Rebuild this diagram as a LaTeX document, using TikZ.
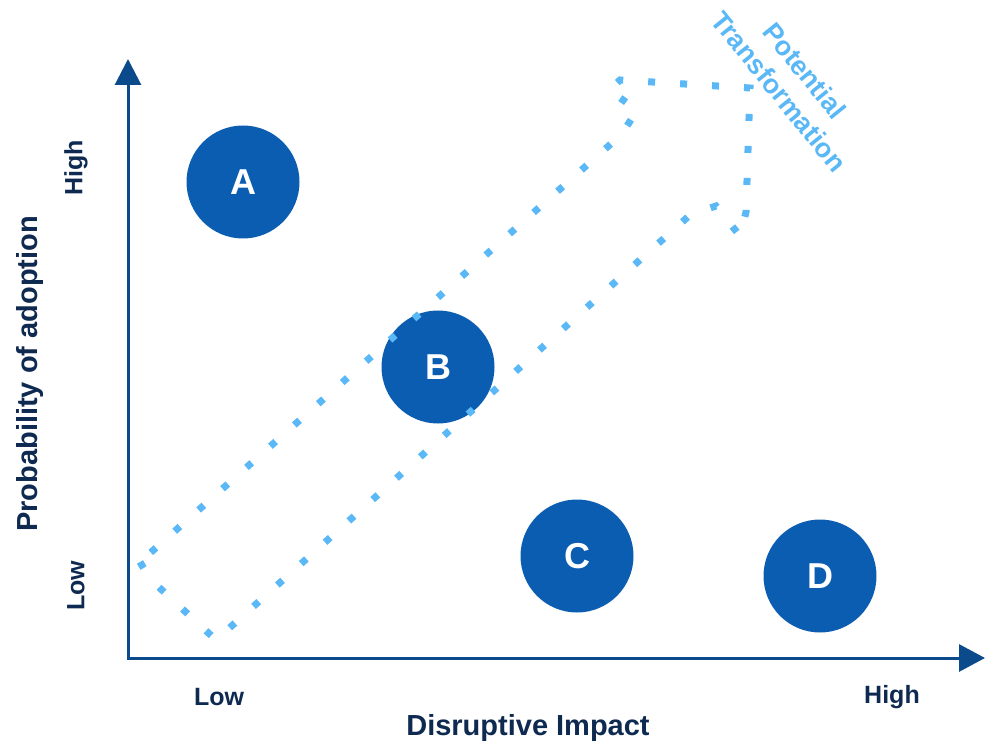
\documentclass[tikz,border=0pt]{standalone}
\usepackage{fontspec}
\setmainfont{Liberation Sans}
\usetikzlibrary{arrows.meta}
\definecolor{axisblue}{HTML}{0B4A8B}
\definecolor{labelnavy}{HTML}{0F2A50}
\definecolor{bubbleblue}{HTML}{0B5DB1}
\definecolor{pathblue}{HTML}{5BB8F6}

\begin{document}
\begin{tikzpicture}[x=1pt,y=-1pt,
    axis/.style={line width=3pt,draw=axisblue,
      {Triangle[length=26pt,width=26pt]}-{Triangle[length=26pt,width=27pt]}},
    bubble/.style={circle,fill=bubbleblue,minimum size=113pt,inner sep=0pt,
      text=white,font=\fontsize{36}{40}\selectfont\bfseries},
    level/.style={text=labelnavy,inner sep=0pt,font=\fontsize{25}{30}\selectfont\bfseries},
    axtitle/.style={text=labelnavy,inner sep=0pt,font=\fontsize{29}{34}\selectfont\bfseries},
    outline/.style={draw=pathblue,line width=7pt,dash pattern=on 7pt off 25pt}]
  \useasboundingbox (0,0) rectangle (988,743);
  % axes
  \coordinate (ytop) at (128,59);
  \coordinate (origin) at (128,658);
  \coordinate (xend) at (985,658);
  \draw[axis] (ytop) -- (origin) -- (xend);
  % bubbles
  \node[bubble] (a) at (243,182) {A};
  \node[bubble] (b) at (438,367) {B};
  \node[bubble] (c) at (577,556) {C};
  \node[bubble] (d) at (820,576) {D};
  % dotted arrow
  \draw[outline] (140,562) -- (150,579) -- (216,640) -- (690,215) -- (716,206)
    -- (740,236) -- (746,212) -- (750,88) -- (620,80) -- (609,90) -- (637,110)
    -- (622,134) -- cycle;
  \node[text=pathblue,rotate=-51,align=center,inner sep=0pt,
    font=\fontsize{27}{33}\selectfont\bfseries] (trans) at (792,81) {Potential\\Transformation};
  % labels
  \node[level] (xlow) at (219,697) {Low};
  \node[level] (xhigh) at (892,697) {High};
  \node[level,rotate=90] (yhigh) at (76,168) {High};
  \node[level,rotate=90] (ylow) at (76,586) {Low};
  \node[axtitle] (xtitle) at (528,728) {Disruptive Impact};
  \node[axtitle,rotate=90] (ytitle) at (30,374) {Probability of adoption};
\end{tikzpicture}
\end{document}
